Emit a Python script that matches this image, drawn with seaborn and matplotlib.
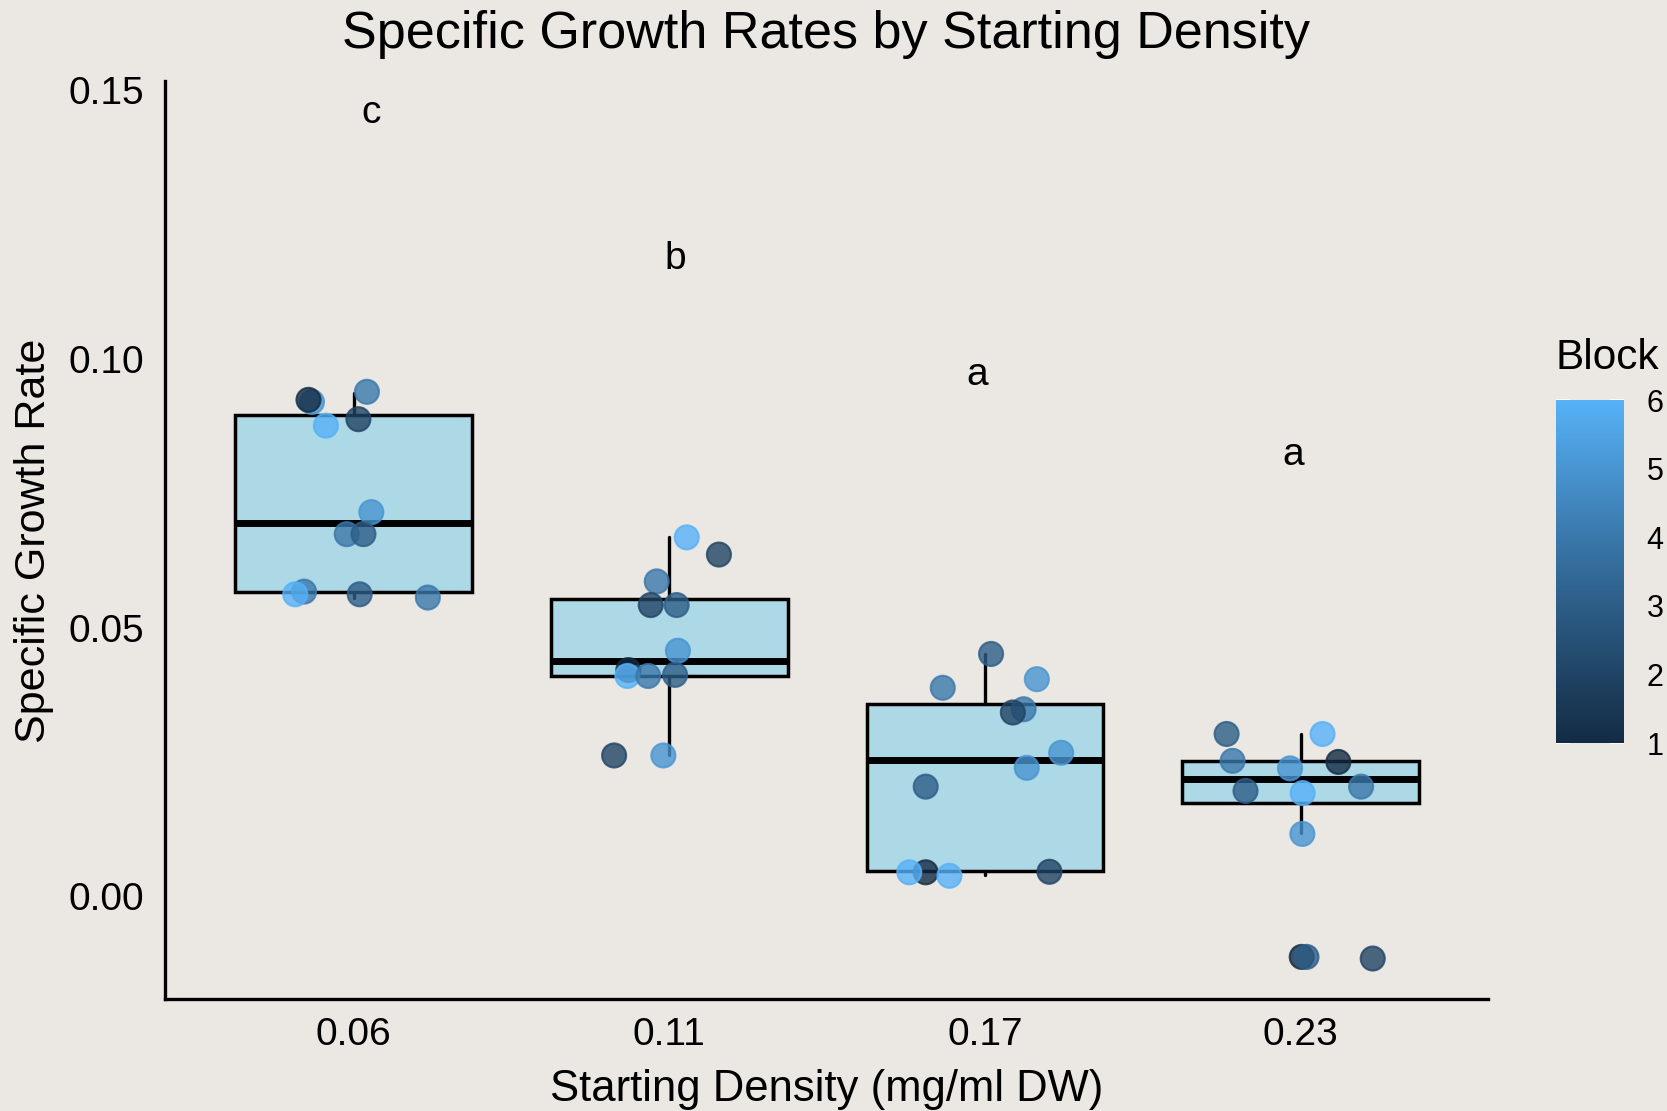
import numpy as np
import pandas as pd
import matplotlib
matplotlib.use("Agg")
import matplotlib.pyplot as plt
import seaborn as sns
from matplotlib.colors import LinearSegmentedColormap, Normalize
from matplotlib.cm import ScalarMappable

# ---------------- data ----------------
categories = ["0.06", "0.11", "0.17", "0.23"]

g1_rate = [0.0920, 0.0924, 0.0939, 0.0888, 0.0876, 0.0715, 0.0674, 0.0674, 0.0567, 0.0562, 0.0562, 0.0556]
g1_jit = [-0.132, -0.143, 0.042, 0.015, -0.088, 0.056, -0.022, 0.031, -0.157, -0.185, 0.019, 0.235]
g1_block = [5, 1, 4, 2, 6, 5, 4, 3, 4, 6, 3, 4]

g2_rate = [0.0668, 0.0636, 0.0586, 0.0542, 0.0542, 0.0457, 0.0421, 0.0410, 0.0410, 0.0412, 0.0262, 0.0262]
g2_jit = [0.055, 0.157, -0.040, -0.059, 0.023, 0.027, -0.130, -0.133, -0.067, 0.018, -0.175, -0.019]
g2_block = [6, 2, 4, 2, 3, 5, 1, 6, 4, 3, 2, 5]

g3_rate = [0.0451, 0.0388, 0.0404, 0.0348, 0.0342, 0.0267, 0.0239, 0.0204, 0.00445, 0.00445, 0.0038, 0.00455]
g3_jit = [0.019, -0.134, 0.164, 0.122, 0.088, 0.241, 0.132, -0.188, -0.188, -0.240, -0.113, 0.204]
g3_block = [3, 4, 5, 4, 2, 5, 5, 3, 1, 6, 6, 2]

g4_rate = [0.0302, 0.0302, 0.0252, 0.0250, 0.0238, 0.0196, 0.0192, 0.0204, 0.0116, -0.0113, -0.0113, -0.0116]
g4_jit = [-0.235, 0.069, -0.216, 0.119, -0.034, -0.175, 0.006, 0.191, 0.005, 0.003, 0.018, 0.228]
g4_block = [3, 6, 4, 1, 5, 3, 6, 4, 5, 1, 3, 2]

# box statistics
box_lo = [0.0556, 0.0262, 0.0040, 0.0117]
box_q1 = [0.0566, 0.0410, 0.0047, 0.0173]
box_med = [0.0695, 0.0438, 0.0253, 0.0219]
box_q3 = [0.0896, 0.0553, 0.0358, 0.0251]
box_hi = [0.0937, 0.0668, 0.0451, 0.0302]

letters = ["c", "b", "a", "a"]
letter_x = [0.054, 1.020, 1.976, 2.976]
letter_y = [0.1458, 0.1187, 0.0970, 0.0821]

y_ticks = [0.00, 0.05, 0.10, 0.15]
block_ticks = [1, 2, 3, 4, 5, 6]

# ---------------- style ----------------
BG = "#EBE8E4"
sns.set_theme(style="white")
plt.rcParams["font.family"] = ["Liberation Sans", "DejaVu Sans"]

cmap = LinearSegmentedColormap.from_list("gg", ["#132B43", "#336A98", "#56B1F7"])

rows = []
for gi, (r, j, b) in enumerate([(g1_rate, g1_jit, g1_block), (g2_rate, g2_jit, g2_block),
                                 (g3_rate, g3_jit, g3_block), (g4_rate, g4_jit, g4_block)]):
    for rr, jj, bb in zip(r, j, b):
        rows.append({"density": categories[gi], "xpos": gi + jj, "rate": rr, "block": bb})
df = pd.DataFrame(rows)

fig = plt.figure(figsize=(16.67, 11.11), dpi=100)
fig.patch.set_facecolor(BG)
ax = fig.add_axes([0.0989, 0.1005, 0.7939, 0.8268])
ax.set_facecolor(BG)

stats = []
for i in range(len(categories)):
    stats.append({"whislo": box_lo[i], "q1": box_q1[i], "med": box_med[i],
                  "q3": box_q3[i], "whishi": box_hi[i], "label": categories[i]})
ax.bxp(stats, positions=range(len(categories)), widths=0.75, patch_artist=True,
       showfliers=False, showcaps=False,
       boxprops=dict(facecolor="#ADD8E6", edgecolor="black", linewidth=2.5),
       medianprops=dict(color="black", linewidth=5.0, solid_capstyle="butt"),
       whiskerprops=dict(color="black", linewidth=2.4), zorder=2)

sns.scatterplot(data=df, x="xpos", y="rate", hue="block", palette=cmap, hue_norm=(1, 6),
                s=300, alpha=0.8, edgecolor="face", linewidth=1.5, legend=False, ax=ax, zorder=3)

for lab, xv, yv in zip(letters, letter_x, letter_y):
    ax.text(xv, yv, lab, ha="center", va="center", fontsize=28, color="black")

ax.set_xlim(-0.598, 3.594)
ax.set_ylim(-0.0192, 0.1518)
ax.set_xticks(range(len(categories)))
ax.set_xticklabels(categories)
ax.set_yticks(y_ticks)
ax.set_yticklabels([f"{v:.2f}" for v in y_ticks])
ax.tick_params(axis="both", length=0, labelsize=28, colors="black")
ax.tick_params(axis="y", pad=15)
ax.tick_params(axis="x", pad=13)
ax.set_xlabel("")
ax.set_ylabel("")
for s in ["top", "right"]:
    ax.spines[s].set_visible(False)
for s in ["left", "bottom"]:
    ax.spines[s].set_color("black")
    ax.spines[s].set_linewidth(2.4)
    ax.spines[s].set_capstyle("projecting")
ax.grid(False)

fig.text(0.4958, 0.969, "Specific Growth Rates by Starting Density", ha="center", va="center",
         fontsize=37.5, color="black")
fig.text(0.4958, 0.0196, "Starting Density (mg/ml DW)", ha="center", va="center",
         fontsize=31.4, color="black")
fig.text(0.0204, 0.513, "Specific Growth Rate", ha="center", va="center", rotation=90,
         fontsize=31, color="black")

# colour bar
cax = fig.add_axes([0.9332, 0.3312, 0.0412, 0.3087])
cb = fig.colorbar(ScalarMappable(norm=Normalize(1, 6), cmap=cmap), cax=cax)
cb.outline.set_visible(False)
cb.set_ticks(block_ticks)
cax.yaxis.set_ticks_position("both")
cax.tick_params(axis="y", direction="in", length=9.8, width=1.3, color="white",
                left=True, right=True, labelleft=False, labelright=True,
                labelcolor="black", labelsize=22, pad=16)
fig.text(0.9332, 1 - 358 / 1111, "Block", ha="left", va="center", fontsize=30.5, color="black")

fig.savefig("out.png", dpi=100, facecolor=BG)
